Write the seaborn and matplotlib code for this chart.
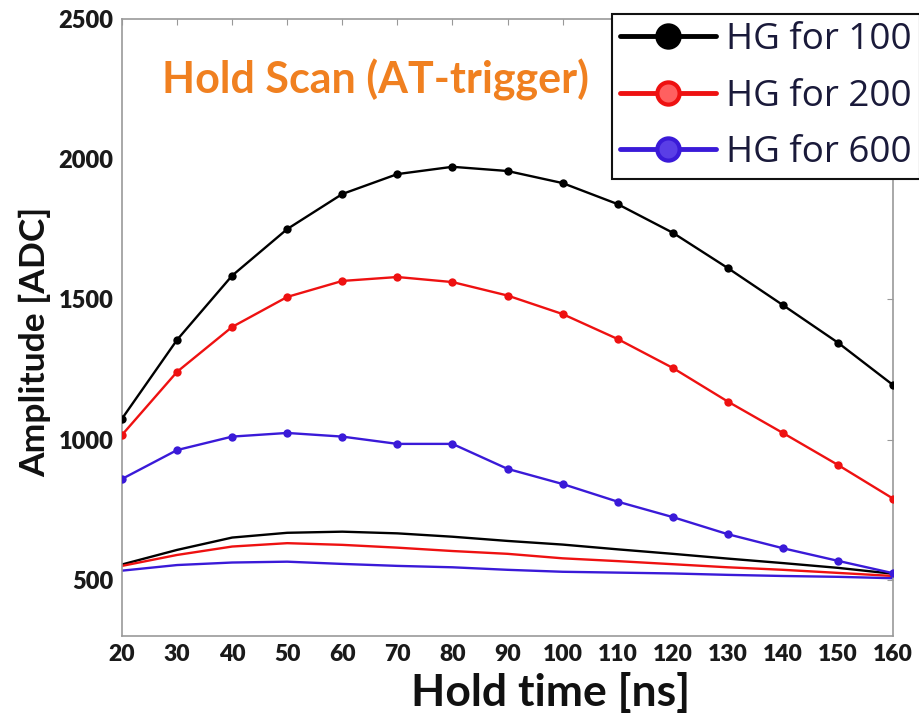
import numpy as np
import pandas as pd
import matplotlib
matplotlib.use("Agg")
import matplotlib.pyplot as plt
import seaborn as sns
from matplotlib.lines import Line2D

# ---- data ----
hold_time = [20, 30, 40, 50, 60, 70, 80, 90, 100, 110, 120, 130, 140, 150, 160]

hg_100 = [1075, 1356, 1585, 1751, 1876, 1947, 1973, 1958, 1915, 1840, 1738, 1612, 1480, 1346, 1195]
hg_200 = [1017, 1242, 1402, 1509, 1566, 1580, 1562, 1514, 1448, 1359, 1256, 1136, 1024, 910, 790]
hg_600 = [860, 963, 1011, 1024, 1011, 985, 985, 896, 842, 779, 724, 663, 613, 568, 524]

lg_black = [555, 607, 651, 668, 672, 666, 654, 639, 626, 609, 593, 576, 560, 543, 522]
lg_red = [550, 589, 619, 631, 625, 615, 603, 593, 577, 567, 556, 545, 536, 525, 514]
lg_blue = [533, 553, 562, 565, 557, 550, 545, 536, 529, 526, 523, 518, 514, 511, 506]

legend_labels = ["HG for 100", "HG for 200", "HG for 600"]
title_text = "Hold Scan (AT-trigger)"
x_ticks = [20, 30, 40, 50, 60, 70, 80, 90, 100, 110, 120, 130, 140, 150, 160]
y_ticks = [500, 1000, 1500, 2000, 2500]

colors = ["#000000", "#ee1111", "#3a1ad8"]
legend_face = ["#000000", "#ff6060", "#5a3ee6"]

sns.set_theme(style="white")
plt.rcParams["font.family"] = ["Lato", "DejaVu Sans"]

fig = plt.figure(figsize=(9.19, 7.14), dpi=100)
ax = fig.add_axes([122 / 919, 1 - 636 / 714, (893 - 122) / 919, (636 - 19) / 714])

marked = [hg_100, hg_200, hg_600]
for vals, c in zip(marked, colors):
    df = pd.DataFrame({"t": hold_time, "a": vals})
    sns.lineplot(data=df, x="t", y="a", ax=ax, color=c, lw=1.7,
                 marker="o", markersize=6, markeredgewidth=0, zorder=3)

for vals, c in zip([lg_black, lg_red, lg_blue], colors):
    df = pd.DataFrame({"t": hold_time, "a": vals})
    sns.lineplot(data=df, x="t", y="a", ax=ax, color=c, lw=1.7, zorder=2)

ax.set_xlim(20, 160)
ax.set_ylim(300, 2500)
ax.set_xticks(x_ticks)
ax.set_yticks(y_ticks)
ax.tick_params(axis="both", direction="in", length=4, color="#999999",
               top=True, right=True, width=0.8, pad=6)
ax.tick_params(axis="x", labelsize=16.5)
ax.tick_params(axis="y", labelsize=17)
for lab in ax.get_xticklabels() + ax.get_yticklabels():
    lab.set_fontweight("heavy")
    lab.set_color("#1a1a1a")
for s in ax.spines.values():
    s.set_color("#999999")
    s.set_linewidth(1.2)

ax.set_xlabel("Hold time [ns]", fontsize=32, fontweight="bold", color="#111111")
ax.xaxis.set_label_coords((551 - 122) / 771, -0.058)
ax.set_ylabel("Amplitude [ADC]", fontsize=25.5, fontweight="bold", color="#111111")
ax.yaxis.set_label_coords(-0.092, 0.476)

ax.text(27.3, 2283, title_text, fontsize=31, fontweight="bold", color="#f08020",
        va="center", ha="left")

handles = []
for c, fc, lab in zip(colors, legend_face, legend_labels):
    handles.append(Line2D([0], [0], color=c, lw=3.5, marker="o", markersize=16,
                          markerfacecolor=fc, markeredgecolor=c, markeredgewidth=3,
                          label=lab))
leg = fig.legend(handles=handles, loc="upper left", bbox_to_anchor=(612 / 919, 1 - 14 / 714),
                 frameon=True, prop={"family": ["Open Sans", "DejaVu Sans"], "size": 26.5},
                 handlelength=2.6, handletextpad=0.28,
                 labelspacing=0.56, borderpad=0.22, borderaxespad=0, fancybox=False,
                 labelcolor="#1a1a3a")
leg.get_frame().set_edgecolor("#111111")
leg.get_frame().set_linewidth(1.5)
leg.get_frame().set_facecolor("white")
leg.get_frame().set_alpha(1)

fig.savefig("out.png", dpi=100)
